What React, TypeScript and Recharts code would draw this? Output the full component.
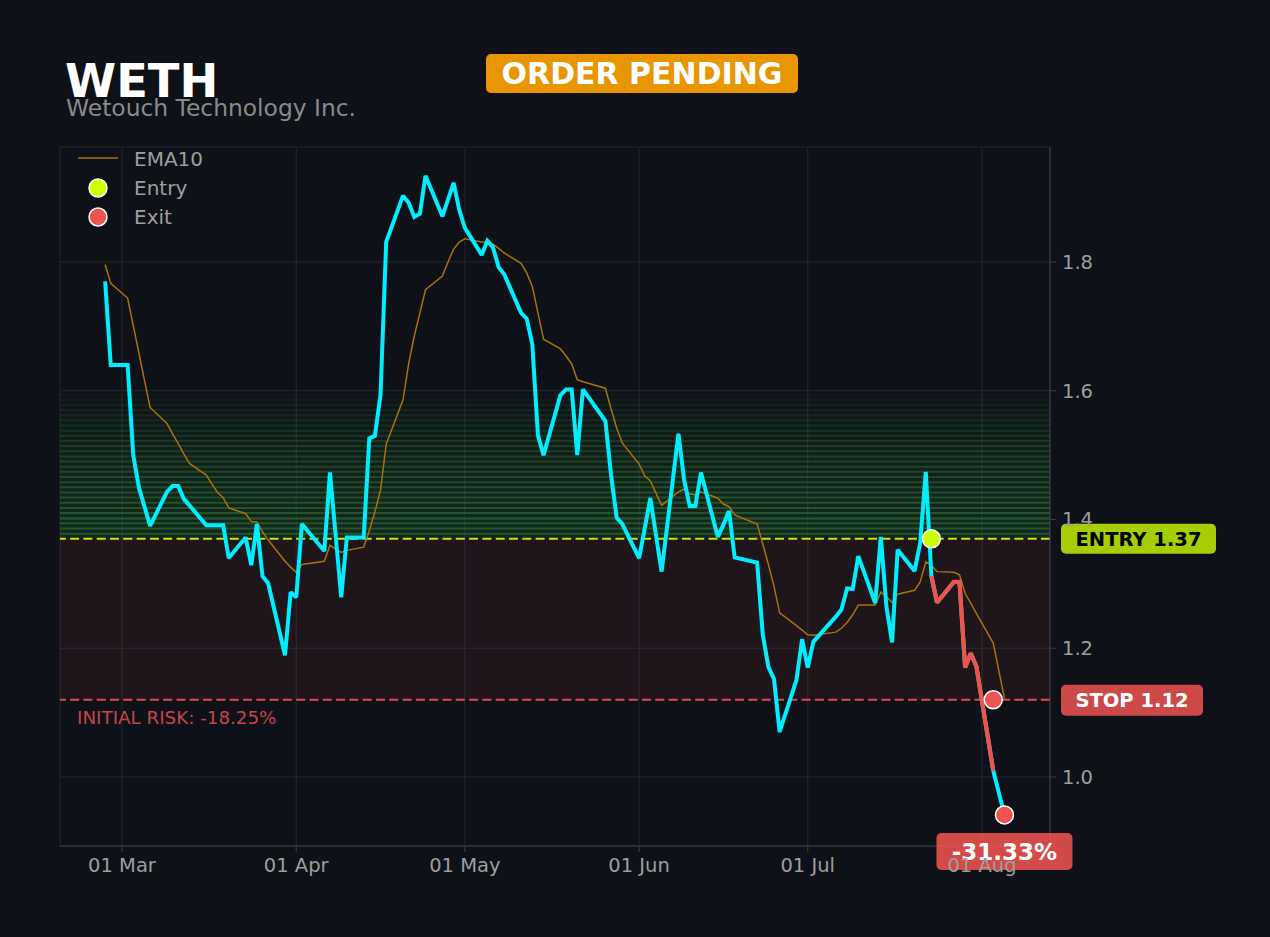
import React from 'react';
import {
  ComposedChart,
  Line,
  XAxis,
  YAxis,
  CartesianGrid,
  ReferenceLine,
  ReferenceArea,
  ReferenceDot,
} from 'recharts';

const TICKER = 'WETH';
const COMPANY = 'Wetouch Technology Inc.';
const STATUS = 'ORDER PENDING';

// daily closes + EMA10
const dates = [
  '2026-02-26', '2026-02-27', '2026-03-02', '2026-03-03', '2026-03-04', '2026-03-05', '2026-03-06',
  '2026-03-09', '2026-03-10', '2026-03-11', '2026-03-12', '2026-03-13',
  '2026-03-16', '2026-03-17', '2026-03-18', '2026-03-19', '2026-03-20',
  '2026-03-23', '2026-03-24', '2026-03-25', '2026-03-26', '2026-03-27',
  '2026-03-30', '2026-03-31', '2026-04-01', '2026-04-02',
  '2026-04-06', '2026-04-07', '2026-04-08', '2026-04-09', '2026-04-10',
  '2026-04-13', '2026-04-14', '2026-04-15', '2026-04-16', '2026-04-17',
  '2026-04-20', '2026-04-21', '2026-04-22', '2026-04-23', '2026-04-24',
  '2026-04-27', '2026-04-28', '2026-04-29', '2026-04-30', '2026-05-01',
  '2026-05-04', '2026-05-05', '2026-05-06', '2026-05-07', '2026-05-08',
  '2026-05-11', '2026-05-12', '2026-05-13', '2026-05-14', '2026-05-15',
  '2026-05-18', '2026-05-19', '2026-05-20', '2026-05-21', '2026-05-22',
  '2026-05-26', '2026-05-27', '2026-05-28', '2026-05-29',
  '2026-06-01', '2026-06-02', '2026-06-03', '2026-06-04', '2026-06-05',
  '2026-06-08', '2026-06-09', '2026-06-10', '2026-06-11', '2026-06-12',
  '2026-06-15', '2026-06-16', '2026-06-17', '2026-06-18',
  '2026-06-22', '2026-06-23', '2026-06-24', '2026-06-25', '2026-06-26',
  '2026-06-29', '2026-06-30', '2026-07-01', '2026-07-02',
  '2026-07-06', '2026-07-07', '2026-07-08', '2026-07-09', '2026-07-10',
  '2026-07-13', '2026-07-14', '2026-07-15', '2026-07-16', '2026-07-17',
  '2026-07-20', '2026-07-21', '2026-07-22', '2026-07-23', '2026-07-24',
  '2026-07-27', '2026-07-28', '2026-07-29', '2026-07-30', '2026-07-31',
  '2026-08-03', '2026-08-05',
];

const closes = [
  1.77, 1.64, 1.64, 1.50, 1.45, 1.42, 1.39,
  1.443, 1.452, 1.452, 1.432, 1.422,
  1.391, 1.391, 1.391, 1.391, 1.340,
  1.372, 1.329, 1.393, 1.312, 1.301,
  1.189, 1.287, 1.279, 1.393,
  1.351, 1.473, 1.376, 1.279, 1.372,
  1.372, 1.526, 1.530, 1.594, 1.831,
  1.903, 1.892, 1.870, 1.875, 1.934,
  1.871, 1.897, 1.923, 1.881, 1.853,
  1.811, 1.833, 1.823, 1.792, 1.781,
  1.721, 1.712, 1.672, 1.531, 1.500,
  1.593, 1.602, 1.602, 1.500, 1.602,
  1.553, 1.470, 1.403, 1.393,
  1.340, 1.386, 1.433, 1.376, 1.319,
  1.533, 1.462, 1.421, 1.421, 1.473,
  1.373, 1.392, 1.413, 1.341,
  1.333, 1.221, 1.171, 1.152, 1.070,
  1.151, 1.214, 1.170, 1.210,
  1.249, 1.260, 1.293, 1.292, 1.343,
  1.270, 1.373, 1.265, 1.209, 1.353,
  1.320, 1.363, 1.474, 1.312, 1.271,
  1.303, 1.303, 1.170, 1.192, 1.172,
  1.010, 0.941,
];

const ema10 = [
  1.796, 1.767, 1.744, 1.701, 1.659, 1.616, 1.574,
  1.549, 1.533, 1.518, 1.502, 1.487,
  1.469, 1.455, 1.442, 1.434, 1.418,
  1.409, 1.397, 1.396, 1.381, 1.368,
  1.335, 1.326, 1.318, 1.330,
  1.335, 1.360, 1.354, 1.349, 1.352,
  1.357, 1.383, 1.412, 1.446, 1.517,
  1.586, 1.642, 1.685, 1.721, 1.757,
  1.778, 1.800, 1.820, 1.831, 1.836,
  1.831, 1.830, 1.828, 1.821, 1.814,
  1.798, 1.783, 1.762, 1.721, 1.680,
  1.665, 1.654, 1.642, 1.617, 1.614,
  1.604, 1.572, 1.542, 1.519,
  1.486, 1.468, 1.460, 1.441, 1.422,
  1.443, 1.447, 1.440, 1.438, 1.443,
  1.433, 1.424, 1.420, 1.407,
  1.393, 1.362, 1.330, 1.296, 1.255,
  1.235, 1.228, 1.221, 1.220,
  1.225, 1.231, 1.240, 1.252, 1.267,
  1.267, 1.287, 1.280, 1.271, 1.284,
  1.290, 1.303, 1.334, 1.329, 1.319,
  1.318, 1.314, 1.285, 1.270, 1.254,
  1.208, 1.122,
];

const ENTRY_PRICE = 1.37;
const STOP_PRICE = 1.12;
const TARGET_PRICE = 1.61;
const ENTRY_DATE = '2026-07-23';
const EXIT_DATE = '2026-08-03';
const RESULT_PCT = -31.33;
const INITIAL_RISK_PCT = -18.25;

const monthTicks = ['2026-03-01', '2026-04-01', '2026-05-01', '2026-06-01', '2026-07-01', '2026-08-01'];
const priceTicks = [1.0, 1.2, 1.4, 1.6, 1.8];

const BG = '#0e1118';
const CYAN = '#00eeff';
const RED = '#ef5350';
const LIME = '#ccff00';
const EMA_COLOR = '#a8720c';
const TICK_COLOR = '#9e9e9e';
const FONT = "'DejaVu Sans', sans-serif";

const ORIGIN = Date.parse('2026-03-01T00:00:00Z');
const toDay = (s: string) => (Date.parse(s + 'T00:00:00Z') - ORIGIN) / 86400000;
const MONTHS = ['Jan', 'Feb', 'Mar', 'Apr', 'May', 'Jun', 'Jul', 'Aug', 'Sep', 'Oct', 'Nov', 'Dec'];
const fmtDay = (d: number) => {
  const dt = new Date(ORIGIN + d * 86400000);
  return `${String(dt.getUTCDate()).padStart(2, '0')} ${MONTHS[dt.getUTCMonth()]}`;
};

const entryDay = toDay(ENTRY_DATE);
const exitDay = toDay(EXIT_DATE);
const lastDay = toDay(dates[dates.length - 1]);
const lastClose = closes[closes.length - 1];

const rows = dates.map((date, i) => {
  const d = toDay(date);
  return {
    d,
    close: closes[i],
    ema: ema10[i],
    trade: d >= entryDay && d <= exitDay ? closes[i] : null,
  };
});

// target zone drawn as fading stripes
const STRIPES = 30;
const stripeH = (TARGET_PRICE - ENTRY_PRICE) / STRIPES;
const stripes = Array.from({ length: STRIPES }, (_, i) => ({
  y1: ENTRY_PRICE + i * stripeH,
  y2: ENTRY_PRICE + (i + 1) * stripeH,
  a: 1 - Math.pow(i / STRIPES, 1.6),
}));

const EntryTag = (props: any) => {
  const { viewBox } = props;
  const x = viewBox.x + viewBox.width + 11;
  const y = viewBox.y;
  return (
    <g>
      <rect x={x} y={y - 15} width={155} height={30} rx={5} fill={LIME} fillOpacity={0.8} />
      <text x={x + 77.5} y={y + 7} textAnchor="middle" fontSize={19.5} fontWeight="bold" fill="#000">
        {`ENTRY ${ENTRY_PRICE.toFixed(2)}`}
      </text>
    </g>
  );
};

const StopTag = (props: any) => {
  const { viewBox } = props;
  const x = viewBox.x + viewBox.width + 11;
  const y = viewBox.y;
  return (
    <g>
      <text x={viewBox.x + 17} y={y + 24} fontSize={18.3} fill="#c94449">
        {`INITIAL RISK: ${INITIAL_RISK_PCT.toFixed(2)}%`}
      </text>
      <rect x={x} y={y - 15} width={142} height={31} rx={5} fill={RED} fillOpacity={0.85} />
      <text x={x + 71} y={y + 7.5} textAnchor="middle" fontSize={19.5} fontWeight="bold" fill="#fff">
        {`STOP ${STOP_PRICE.toFixed(2)}`}
      </text>
    </g>
  );
};

const ResultDot = (props: any) => {
  const { cx, cy } = props;
  return (
    <g>
      <circle cx={cx} cy={cy} r={9} fill={RED} stroke="#fff" strokeWidth={1.5} />
      <rect x={cx - 68} y={cy + 18} width={136} height={37} rx={5} fill={RED} fillOpacity={0.88} />
      <text x={cx} y={cy + 45} textAnchor="middle" fontSize={23} fontWeight="bold" fill="#fff">
        {`${RESULT_PCT.toFixed(2)}%`}
      </text>
    </g>
  );
};

function LegendBox() {
  return (
    <svg width={240} height={90} style={{ position: 'absolute', left: 60, top: 140 }}>
      <line x1={18} x2={58} y1={18} y2={18} stroke={EMA_COLOR} strokeWidth={1.5} />
      <text x={74} y={25.5} fontSize={20} fill={TICK_COLOR}>EMA10</text>
      <circle cx={38} cy={48} r={9} fill={LIME} stroke="#fff" strokeWidth={1.5} />
      <text x={74} y={55} fontSize={20} fill={TICK_COLOR}>Entry</text>
      <circle cx={38} cy={77} r={9} fill={RED} stroke="#fff" strokeWidth={1.5} />
      <text x={74} y={84} fontSize={20} fill={TICK_COLOR}>Exit</text>
    </svg>
  );
}

export default function App() {
  return (
    <div
      style={{
        position: 'fixed',
        left: 0,
        top: 0,
        width: 1270,
        height: 937,
        background: BG,
        fontFamily: FONT,
        overflow: 'hidden',
      }}
    >
      <div style={{ position: 'absolute', left: 65, top: 58, fontSize: 46.4, lineHeight: '46px', fontWeight: 'bold', color: '#fff' }}>
        {TICKER}
      </div>
      <div style={{ position: 'absolute', left: 66, top: 97, fontSize: 23.4, lineHeight: '23px', color: '#8a8a8a' }}>
        {COMPANY}
      </div>
      <div
        style={{
          position: 'absolute',
          left: 486,
          top: 54,
          width: 312,
          height: 39,
          borderRadius: 5,
          background: 'rgba(255,165,0,0.9)',
          color: '#fff',
          fontSize: 30,
          fontWeight: 'bold',
          lineHeight: '39px',
          textAlign: 'center',
        }}
      >
        {STATUS}
      </div>

      <div style={{ position: 'absolute', left: 0, top: 0 }}>
        <ComposedChart width={1270} height={937} data={rows} margin={{ top: 147, right: 140, bottom: 51, left: 60 }}>
          <CartesianGrid stroke="#23272f" strokeWidth={1} />
          <ReferenceArea y1={STOP_PRICE} y2={ENTRY_PRICE} fill={RED} fillOpacity={0.08} stroke="none" />
          {stripes.map((s, i) => (
            <ReferenceArea key={`s${i}`} y1={s.y1} y2={s.y2} fill="#2e7d32" fillOpacity={0.2 * s.a} stroke="none" />
          ))}
          {stripes.map((s, i) => (
            <ReferenceLine key={`l${i}`} y={s.y2} stroke="#3cb043" strokeOpacity={0.36 * s.a} strokeWidth={2} />
          ))}
          <XAxis
            dataKey="d"
            type="number"
            domain={[-11.03, 165.1]}
            allowDataOverflow
            ticks={monthTicks.map(toDay)}
            tickFormatter={fmtDay}
            tick={{ fill: TICK_COLOR, fontSize: 19.5 }}
            tickSize={6}
            tickMargin={6}
            height={40}
            axisLine={{ stroke: '#3b4048' }}
            tickLine={{ stroke: '#3b4048' }}
          />
          <YAxis
            orientation="right"
            type="number"
            domain={[0.8928, 1.9786]}
            allowDataOverflow
            ticks={priceTicks}
            tickFormatter={(v: number) => v.toFixed(1)}
            tick={{ fill: TICK_COLOR, fontSize: 19.5 }}
            tickSize={6}
            tickMargin={6}
            width={80}
            axisLine={{ stroke: '#3b4048' }}
            tickLine={{ stroke: '#3b4048' }}
          />
          <ReferenceLine y={ENTRY_PRICE} stroke="#c8e600" strokeDasharray="9 4.3" strokeWidth={2} label={<EntryTag />} />
          <ReferenceLine y={STOP_PRICE} stroke="#e04a4a" strokeDasharray="9 4.3" strokeWidth={2} label={<StopTag />} />
          <Line
            dataKey="ema"
            stroke={EMA_COLOR}
            strokeWidth={1.5}
            dot={false}
            isAnimationActive={false}
          />
          <Line
            dataKey="close"
            stroke={CYAN}
            strokeWidth={4}
            strokeLinejoin="miter"
            strokeMiterlimit={2}
            dot={false}
            isAnimationActive={false}
          />
          <Line
            dataKey="trade"
            stroke={RED}
            strokeWidth={4.2}
            strokeLinejoin="miter"
            strokeMiterlimit={2}
            dot={false}
            connectNulls={false}
            isAnimationActive={false}
          />
          <ReferenceDot x={entryDay} y={ENTRY_PRICE} r={9} fill={LIME} stroke="#fff" strokeWidth={1.5} />
          <ReferenceDot x={exitDay} y={STOP_PRICE} r={9} fill={RED} stroke="#fff" strokeWidth={1.5} />
          <ReferenceDot x={lastDay} y={lastClose} r={9} shape={<ResultDot />} />
        </ComposedChart>
      </div>
      <LegendBox />
    </div>
  );
}
